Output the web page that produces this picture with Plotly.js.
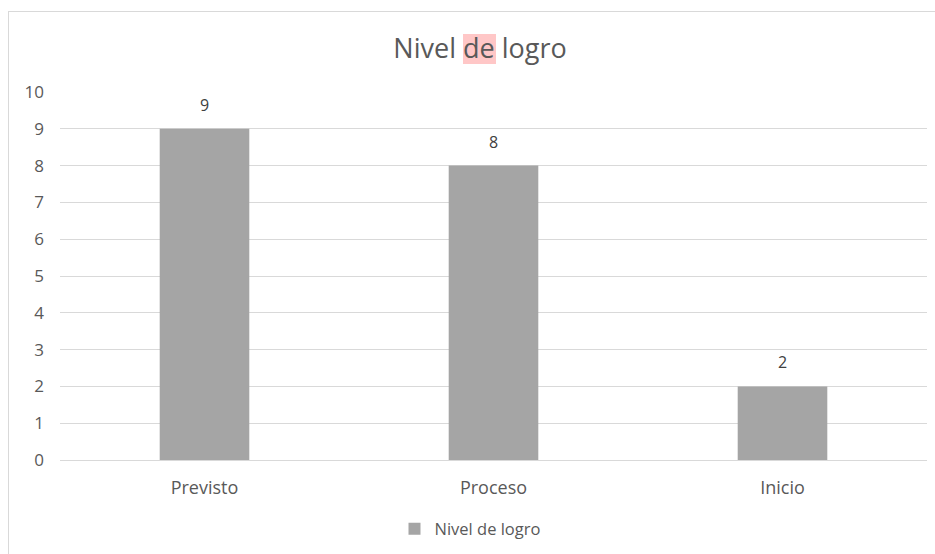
<!DOCTYPE html>
<html>
<head>
<meta charset="utf-8">
<script src="https://cdn.plot.ly/plotly-3.0.1.min.js"></script>
<style>
body{margin:0;padding:0;background:#fff;}
#wrap{position:relative;width:935px;height:554px;}
#chart{position:absolute;left:0;top:0;width:935px;height:554px;}
#frame{position:absolute;left:8px;top:11px;width:940px;height:560px;border-left:1px solid #d9d9d9;border-top:1px solid #d9d9d9;pointer-events:none;}
</style>
</head>
<body>
<div id="wrap"><div id="chart"></div><div id="frame"></div></div>
<script>
const categories = ["Previsto", "Proceso", "Inicio"];
const values = [9, 8, 2];
const seriesName = "Nivel de logro";
const yTicks = [0,1,2,3,4,5,6,7,8,9,10];

const W = 935, H = 554, L = 60, R = 8, T = 92, B = 94;
const pw = W - L - R, ph = H - T - B;
function px(x){ return (x - L) / pw; }
function py(y){ return (H - B - y) / ph; }

const font = "'Open Sans', sans-serif";

const trace = {
  type: 'bar',
  x: categories,
  y: values,
  name: seriesName,
  marker: {color: '#a5a5a5'},
  width: 0.31,
  hoverinfo: 'none'
};

const annotations = categories.map((c, i) => ({
  x: c, y: values[i], xref: 'x', yref: 'y',
  text: String(values[i]), showarrow: false,
  yshift: 24, font: {family: font, size: 16, color: '#404040'}
}));

const layout = {
  width: W, height: H,
  margin: {l: L, r: R, t: T, b: B, pad: 0},
  paper_bgcolor: 'rgba(0,0,0,0)',
  plot_bgcolor: 'rgba(0,0,0,0)',
  title: {text: 'Nivel de logro', x: 480 / W, xref: 'container', xanchor: 'center',
          y: 1 - 49 / H, yref: 'container', yanchor: 'middle',
          font: {family: font, size: 27, color: '#595959'}},
  showlegend: true,
  legend: {orientation: 'h', x: px(470), xanchor: 'center', y: py(529), yanchor: 'middle',
           font: {family: font, size: 16.5, color: '#595959'}, itemwidth: 30},
  xaxis: {type: 'category', showgrid: false, zeroline: false, showline: false,
          ticks: '', ticklabelstandoff: 15,
          tickfont: {family: font, size: 18, color: '#595959'}, fixedrange: true},
  yaxis: {range: [0, 10], tickvals: yTicks, ticktext: yTicks.map(String),
          showgrid: true, gridcolor: '#d9d9d9', gridwidth: 1,
          zeroline: true, zerolinecolor: '#d9d9d9', zerolinewidth: 1,
          showline: false, ticks: '', ticklabelstandoff: 15,
          tickfont: {family: font, size: 17, color: '#595959'}, fixedrange: true},
  shapes: [{type: 'rect', xref: 'paper', yref: 'paper', layer: 'below',
            x0: px(463), x1: px(496), y0: py(64), y1: py(34),
            fillcolor: '#ffc7c7', line: {width: 0}}],
  annotations: annotations
};

Plotly.newPlot('chart', [trace], layout, {displayModeBar: false, staticPlot: true});
</script>
</body>
</html>
